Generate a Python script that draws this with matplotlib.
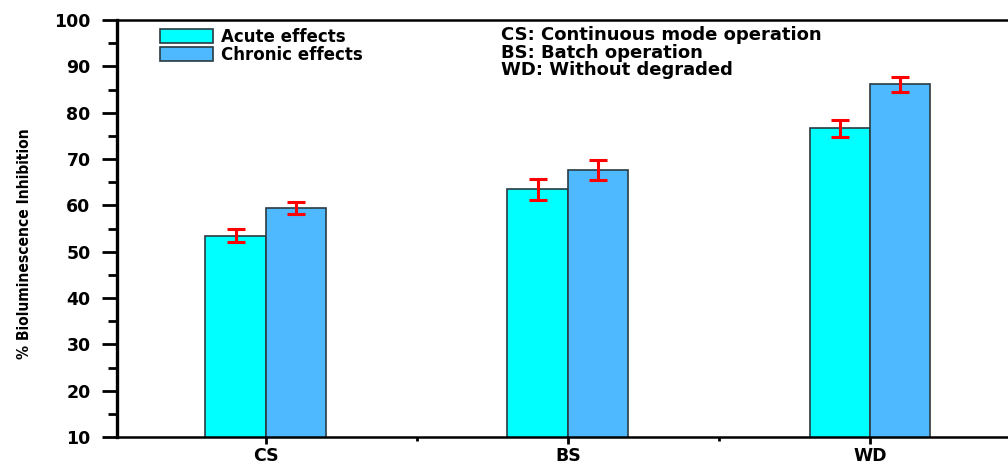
import numpy as np
import matplotlib.pyplot as plt
from matplotlib.ticker import MultipleLocator, FixedLocator

categories = ["CS", "BS", "WD"]
acute = [53.5, 63.5, 76.6]
acute_err = [1.3, 2.3, 1.8]
chronic = [59.5, 67.7, 86.1]
chronic_err = [1.3, 2.2, 1.6]
notes = ["CS: Continuous mode operation", "BS: Batch operation", "WD: Without degraded"]

plt.rcParams['font.family'] = ['DejaVu Sans']
plt.rcParams['font.weight'] = 'bold'

fig = plt.figure(figsize=(10.08, 4.66), dpi=100)
ax = fig.add_axes([0.116, 0.062, 0.884, 0.895])

x = np.arange(len(categories))
w = 0.2
ax.bar(x - w/2, acute, w, bottom=0, color='#00FFFF', edgecolor='#2a3a40', linewidth=1.2,
       label='Acute effects', zorder=2)
ax.bar(x + w/2, chronic, w, bottom=0, color='#4FB9FF', edgecolor='#2a3a40', linewidth=1.2,
       label='Chronic effects', zorder=2)
ax.errorbar(x - w/2, acute, yerr=acute_err, fmt='none', ecolor='red', elinewidth=2.2,
            capsize=6.5, capthick=2.2, zorder=3)
ax.errorbar(x + w/2, chronic, yerr=chronic_err, fmt='none', ecolor='red', elinewidth=2.2,
            capsize=6.5, capthick=2.2, zorder=3)

ax.set_ylim(10, 100)
ax.set_xlim(-0.493, 2.457)
ax.set_xticks(x)
ax.set_xticklabels(categories, fontsize=12.5, fontweight='bold')
ax.xaxis.set_minor_locator(FixedLocator([0.5, 1.5]))
ax.yaxis.set_major_locator(MultipleLocator(10))
ax.yaxis.set_minor_locator(MultipleLocator(5))
for lab in ax.get_yticklabels():
    lab.set_fontsize(12.5)
    lab.set_fontweight('bold')

ax.spines['right'].set_visible(False)
ax.spines['left'].set_linewidth(2.4)
ax.spines['bottom'].set_linewidth(1.8)
ax.spines['top'].set_linewidth(1.8)
ax.tick_params(axis='y', which='major', direction='out', length=11, width=2, pad=8)
ax.tick_params(axis='y', which='minor', direction='out', length=6.5, width=2)
ax.tick_params(axis='x', which='major', direction='out', length=5, width=2, pad=2)
ax.tick_params(axis='x', which='minor', direction='out', length=3, width=2)

ax.set_ylabel('% Bioluminescence Inhibition', family=['DejaVu Sans'], fontstretch='condensed',
              fontsize=11.2, fontweight='bold')
ax.yaxis.set_label_coords(-0.095, 0.463)

ax.legend(loc='upper left', bbox_to_anchor=(0.033, 1.013), frameon=False, fontsize=12,
          handlelength=3.2, handleheight=0.9, labelspacing=0.0, handletextpad=0.45,
          borderaxespad=0.4)

for i, t in enumerate(notes):
    ax.text(0.431, 0.985 - i * 0.042, t, transform=ax.transAxes, fontsize=13,
            fontweight='bold', va='top', ha='left')

fig.savefig('out.png', dpi=100)
